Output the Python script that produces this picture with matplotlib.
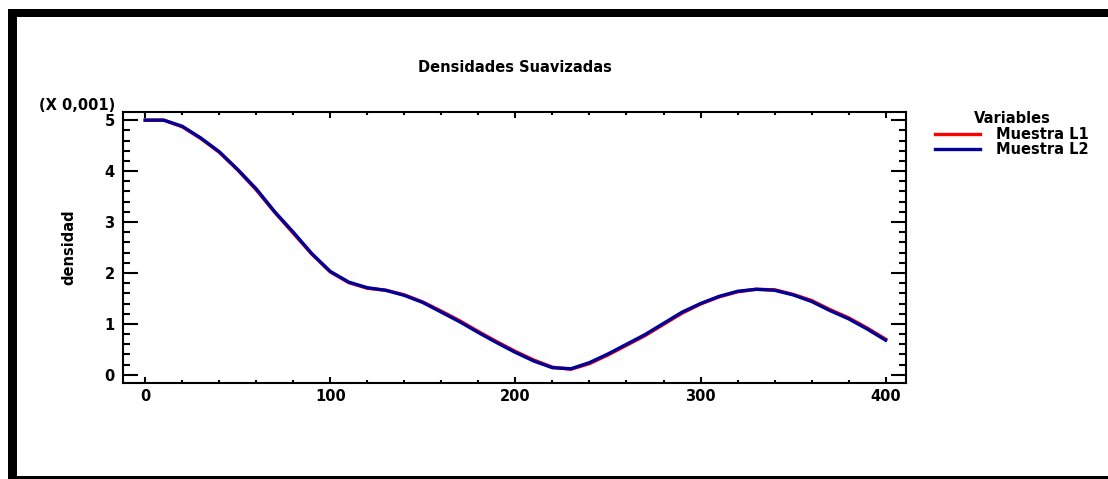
import matplotlib
matplotlib.use("Agg")
import matplotlib.pyplot as plt
from matplotlib.patches import Rectangle
from matplotlib.ticker import MultipleLocator

# datos (densidad en unidades de 0,001)
x = [0, 10, 20, 30, 40, 50, 60, 70, 80, 90, 100, 110, 120, 130, 140, 150,
     160, 170, 180, 190, 200, 210, 220, 230, 240, 250, 260, 270, 280, 290,
     300, 310, 320, 330, 340, 350, 360, 370, 380, 390, 400]
muestra_l1 = [5.00, 5.00, 4.87, 4.64, 4.37, 4.02, 3.63, 3.19, 2.78, 2.37,
              2.02, 1.81, 1.70, 1.66, 1.57, 1.43, 1.25, 1.06, 0.85, 0.65,
              0.46, 0.29, 0.15, 0.11, 0.22, 0.39, 0.58, 0.77, 0.99, 1.21,
              1.39, 1.53, 1.63, 1.68, 1.67, 1.58, 1.46, 1.28, 1.12, 0.92, 0.70]
muestra_l2 = [5.00, 5.00, 4.88, 4.65, 4.38, 4.03, 3.65, 3.20, 2.80, 2.38,
              2.03, 1.82, 1.71, 1.66, 1.56, 1.42, 1.23, 1.04, 0.83, 0.63,
              0.44, 0.27, 0.14, 0.12, 0.24, 0.41, 0.60, 0.79, 1.01, 1.23,
              1.40, 1.54, 1.64, 1.68, 1.66, 1.57, 1.44, 1.26, 1.10, 0.90, 0.68]
etiquetas = ["Muestra L1", "Muestra L2"]

plt.rcParams['font.family'] = ['DejaVu Sans']
plt.rcParams['font.weight'] = 'bold'
fs = 10.5

fig = plt.figure(figsize=(11.08, 4.79), dpi=100)
W, H = 1108.0, 479.0

# marco negro
fig.add_artist(Rectangle((8 / W, 0), 8.5 / W, 1 - 9 / H, transform=fig.transFigure,
                         color='black', lw=0))
fig.add_artist(Rectangle((8 / W, 1 - 17 / H), 1, 8 / H, transform=fig.transFigure,
                         color='black', lw=0))
fig.add_artist(Rectangle((8 / W, 0), 1, 3 / H, transform=fig.transFigure,
                         color='black', lw=0))

ax = fig.add_axes([123 / W, 1 - 383 / H, (906 - 123) / W, (383 - 112) / H])
ax.plot(x, muestra_l1, color='#ff0000', lw=2.4, label=etiquetas[0])
ax.plot(x, muestra_l2, color='#000099', lw=2.4, label=etiquetas[1])

ax.set_xlim(-12, 411)
ax.set_ylim(-0.16, 5.16)
ax.xaxis.set_major_locator(MultipleLocator(100))
ax.xaxis.set_minor_locator(MultipleLocator(20))
ax.yaxis.set_major_locator(MultipleLocator(1))
ax.yaxis.set_minor_locator(MultipleLocator(0.2))

ax.tick_params(axis='both', which='both', direction='in', top=True, right=True,
               width=1.5, labelsize=fs)
ax.tick_params(axis='y', which='major', length=11, pad=6)
ax.tick_params(axis='y', which='minor', length=5)
ax.tick_params(axis='x', which='major', length=4, pad=4)
ax.tick_params(axis='x', which='minor', length=2.2)
for s in ax.spines.values():
    s.set_linewidth(1.5)

fig.text(514.5 / W, 1 - 67 / H, "Densidades Suavizadas", ha='center', va='center',
         fontsize=fs, fontweight='bold')
fig.text(115 / W, 1 - 105 / H, "(X 0,001)", ha='right', va='center',
         fontsize=fs, fontweight='bold')
fig.text(69 / W, 1 - 247 / H, "densidad", ha='center', va='center', rotation=90,
         fontsize=fs, fontweight='bold')

leg = ax.legend(loc='upper left', bbox_to_anchor=(935 / W, 1 - 111 / H),
                bbox_transform=fig.transFigure, frameon=False, title="Variables",
                title_fontproperties={'weight': 'bold', 'size': fs},
                prop={'weight': 'bold', 'size': fs}, handlelength=3.1,
                handletextpad=1.1, labelspacing=0.05, borderpad=0, borderaxespad=0)

fig.savefig("out.png", dpi=100, facecolor='white')
